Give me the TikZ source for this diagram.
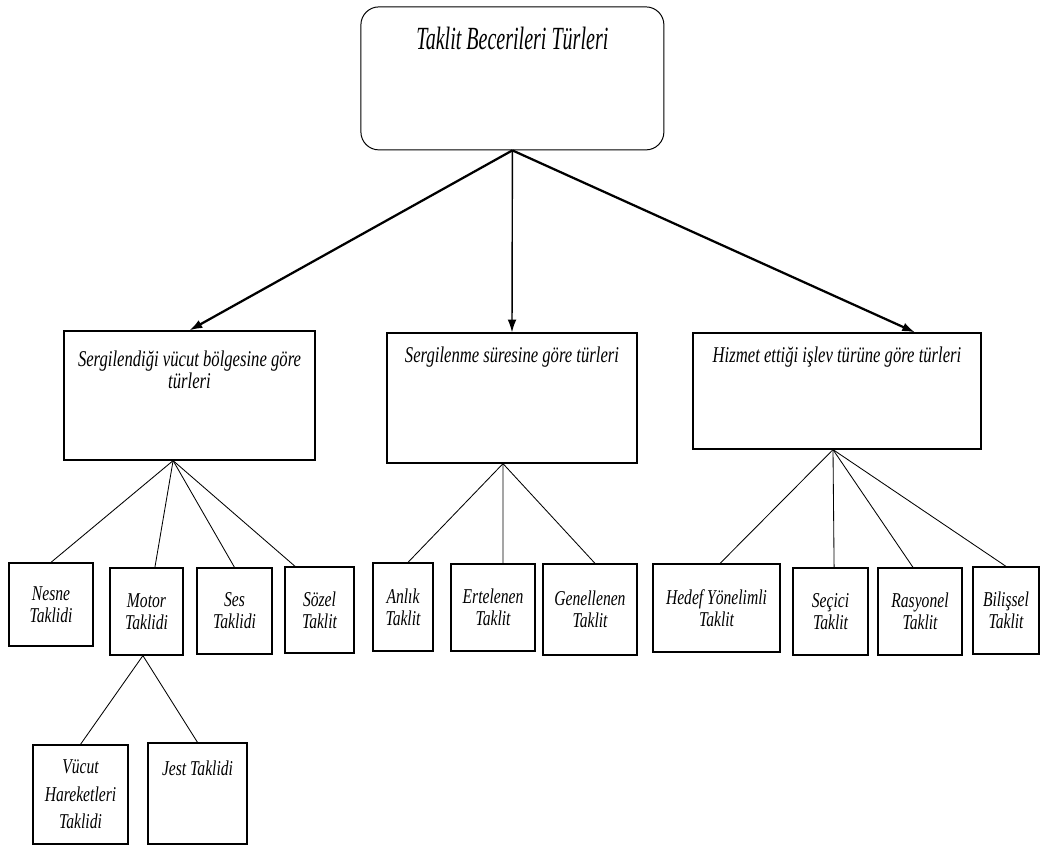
\documentclass[tikz,border=0pt]{standalone}
\usepackage{fontspec}
\setmainfont{Liberation Serif}[FakeStretch=0.74]
\newfontfamily\rootfont{Liberation Serif}[FakeStretch=0.62]
\usetikzlibrary{arrows.meta,calc}

\tikzset{
    tbox/.style={draw, line width=0.9pt, inner sep=2pt, align=center,
        font=\itshape\fontsize{15}{15.8}\selectfont},
    head/.style={anchor=north, inner sep=0pt, align=center,
        font=\itshape\fontsize{16}{15.5}\selectfont},
    link/.style={line width=0.6pt},
    down/.style={line width=1.6pt, -{Latex[length=3.2mm,width=2.2mm]}},
}

\begin{document}
\begin{tikzpicture}
    \useasboundingbox (0,0) rectangle (26.025,-21.4);

    % Root
    \node[draw, line width=0.7pt, rounded corners=0.45cm, minimum width=7.575cm, minimum height=3.575cm] (root) at (12.81,-1.96) {};
    \node[anchor=north, inner sep=0pt, font=\rootfont\itshape\fontsize{23}{26}\selectfont] (rootlbl) at ([yshift=-0.52cm]root.north) {Taklit Becerileri Türleri};

    % Groups
    \node[tbox, minimum width=6.275cm, minimum height=3.225cm] (vbolge) at (4.7375,-9.8875) {};
    \node[head] (vbolgelbl) at ([yshift=-0.5cm]vbolge.north) {Sergilendiği vücut bölgesine göre\\türleri};

    \node[tbox, minimum width=6.25cm, minimum height=3.25cm] (sure) at (12.8,-9.95) {};
    \node[head] (surelbl) at ([yshift=-0.36cm]sure.north) {Sergilenme süresine göre türleri};

    \node[tbox, minimum width=7.2cm, minimum height=2.9cm] (islev) at (20.925,-9.775) {};
    \node[head] (islevlbl) at ([yshift=-0.36cm]islev.north) {Hizmet ettiği işlev türüne göre türleri};

    % Arrows
    \draw[down] (root.south) -- (vbolge.north);
    \draw[down, line width=1pt] (root.south) -- (sure.north);
    \draw[down] (root.south) -- ([xshift=1.95cm]islev.north);

    % Kinds by body region
    \node[tbox, minimum width=2.1cm, minimum height=2.075cm] (nesne) at (1.275,-15.1125) {Nesne\\Taklidi};
    \node[tbox, minimum width=1.825cm, minimum height=2.175cm] (motor) at (3.6625,-15.2875) {Motor\\Taklidi};
    \node[tbox, minimum width=1.875cm, minimum height=2.15cm] (ses) at (5.8625,-15.275) {Ses\\Taklidi};
    \node[tbox, minimum width=1.725cm, minimum height=2.15cm] (sozel) at (7.9875,-15.25) {Sözel\\Taklit};

    \draw[link] ([xshift=-0.41cm]vbolge.south) -- (nesne.north);
    \draw[link] ([xshift=-0.41cm]vbolge.south) -- ([xshift=0.21cm]motor.north);
    \draw[link] ([xshift=-0.41cm]vbolge.south) -- (ses.north);
    \draw[link] ([xshift=-0.41cm]vbolge.south) -- ([xshift=-0.61cm]sozel.north);

    % Motor
    \node[tbox, minimum width=2.375cm, minimum height=2.475cm, font=\itshape\fontsize{15}{19.5}\selectfont] (vucut) at (2.0125,-19.8625) {Vücut\\Hareketleri\\Taklidi};
    \node[tbox, minimum width=2.475cm, minimum height=2.525cm] (jest) at (4.9375,-19.8375) {};
    \node[head, font=\itshape\fontsize{15}{15.8}\selectfont] (jestlbl) at ([yshift=-0.45cm]jest.north) {Jest Taklidi};

    \draw[link] ([xshift=-0.09cm]motor.south) -- (vucut.north);
    \draw[link] ([xshift=-0.09cm]motor.south) -- (jest.north);

    % Kinds by duration
    \node[tbox, minimum width=1.5cm, minimum height=2.2cm] (anlik) at (10.075,-15.175) {Anlık\\Taklit};
    \node[tbox, minimum width=2.1cm, minimum height=2.175cm] (ertelenen) at (12.325,-15.1875) {Ertelenen\\Taklit};
    \node[tbox, minimum width=2.35cm, minimum height=2.275cm] (genellenen) at (14.75,-15.2375) {Genellenen\\Taklit};

    \draw[link] ([xshift=-0.225cm]sure.south) -- ([xshift=0.125cm]anlik.north);
    \draw[link] ([xshift=-0.225cm]sure.south) -- ([xshift=0.25cm]ertelenen.north);
    \draw[link] ([xshift=-0.225cm]sure.south) -- ([xshift=0.125cm]genellenen.north);

    % Kinds by function
    \node[tbox, minimum width=3.175cm, minimum height=2.2cm] (hedef) at (17.9125,-15.2) {Hedef Yönelimli\\Taklit};
    \node[tbox, minimum width=1.875cm, minimum height=2.175cm] (secici) at (20.7625,-15.2875) {Seçici\\Taklit};
    \node[tbox, minimum width=2.1cm, minimum height=2.175cm] (rasyonel) at (23.0,-15.2875) {Rasyonel\\Taklit};
    \node[tbox, minimum width=1.65cm, minimum height=2.175cm] (bilissel) at (25.15,-15.2625) {Bilişsel\\Taklit};

    \draw[link] ([xshift=-0.1cm]islev.south) -- ([xshift=0.09cm]hedef.north);
    \draw[link] ([xshift=-0.1cm]islev.south) -- ([xshift=0.09cm]secici.north);
    \draw[link] ([xshift=-0.1cm]islev.south) -- ([xshift=-0.175cm]rasyonel.north);
    \draw[link] ([xshift=-0.1cm]islev.south) -- (bilissel.north);
\end{tikzpicture}
\end{document}
